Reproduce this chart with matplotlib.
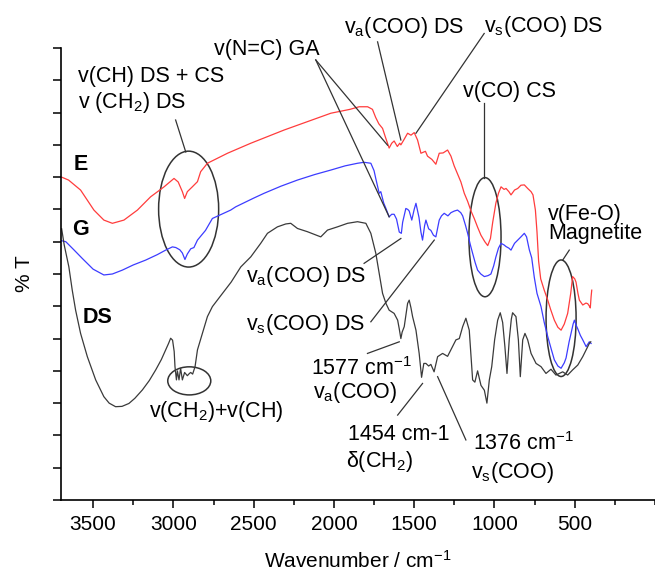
import matplotlib
matplotlib.use("Agg")
import matplotlib.pyplot as plt
from matplotlib.patches import Ellipse
from matplotlib.ticker import MultipleLocator, NullFormatter

plt.rcParams['font.family'] = ['Liberation Sans', 'DejaVu Sans']
plt.rcParams['mathtext.fontset'] = 'custom'
plt.rcParams['mathtext.rm'] = 'Liberation Sans'
plt.rcParams['mathtext.it'] = 'Liberation Sans:italic'
plt.rcParams['mathtext.bf'] = 'Liberation Sans:bold'

# --- spectra (wavenumber in cm-1, offset %T in tick units) ---
wn_E = [3696, 3653, 3578, 3495, 3433, 3380, 3308, 3224, 3142, 3058, 2996, 2970,
        2944, 2930, 2913, 2882, 2850, 2830, 2788, 2663, 2518, 2310, 2019, 1900,
        1843, 1790, 1760, 1740, 1720, 1697, 1680, 1656, 1640, 1625, 1605, 1590,
        1583, 1565, 1541, 1520, 1500, 1479, 1458, 1430, 1417, 1390, 1365, 1344,
        1320, 1292, 1271, 1251, 1230, 1209, 1188, 1167, 1146, 1126, 1105, 1084,
        1060, 1042, 1025, 1011, 991, 975, 959, 940, 928, 910, 897, 875, 855, 835,
        814, 793, 772, 760, 745, 735, 725, 712, 690, 668, 650, 627, 605, 585, 565,
        544, 525, 513, 500, 492, 480, 471, 450, 430, 419, 408, 403, 398, 394]
T_E = [10.0, 9.91, 9.6, 8.98, 8.67, 8.57, 8.67, 8.98, 9.39, 9.7, 9.96, 9.85,
       9.55, 9.34, 9.55, 9.7, 9.86, 10.17, 10.43, 10.74, 11.05, 11.46, 11.98, 12.1,
       12.18, 12.18, 12.1, 11.85, 11.65, 11.51, 11.25, 10.9, 11.05, 11.12, 10.95, 11.05,
       11.0, 11.15, 11.36, 11.3, 11.38, 11.15, 10.74, 10.8, 10.65, 10.55, 10.4, 10.74,
       10.75, 10.84, 10.65, 10.35, 10.1, 9.85, 9.5, 9.25, 8.95, 8.72, 8.45, 8.2,
       8.0, 7.88, 8.1, 8.6, 9.2, 9.5, 9.7, 9.62, 9.65, 9.55, 9.45, 9.6, 9.65, 9.75,
       9.76, 9.65, 9.55, 9.45, 8.98, 8.3, 7.4, 6.85, 6.5, 6.19, 5.9, 5.57, 5.35, 5.26, 5.45,
       5.78, 6.4, 6.92, 6.85, 6.75, 6.4, 6.19, 6.04, 6.1, 6.08, 6.0, 5.95, 6.3, 6.5]

wn_G = [3696, 3670, 3620, 3567, 3500, 3433, 3380, 3318, 3250, 3173, 3100, 3048,
        3006, 2985, 2960, 2944, 2928, 2913, 2892, 2872, 2850, 2800, 2757, 2700,
        2643, 2612, 2500, 2435, 2330, 2227, 2120, 2019, 1930, 1853, 1812, 1770,
        1750, 1739, 1718, 1708, 1690, 1676, 1656, 1640, 1625, 1610, 1593, 1580,
        1572, 1552, 1540, 1531, 1515, 1500, 1489, 1470, 1458, 1448, 1435, 1427,
        1410, 1396, 1380, 1365, 1344, 1330, 1313, 1290, 1271, 1250, 1230, 1210,
        1198, 1180, 1167, 1150, 1136, 1120, 1105, 1085, 1063, 1040, 1022, 1005,
        991, 975, 959, 940, 928, 910, 897, 875, 855, 835, 814, 800, 783, 768, 752,
        735, 710, 690, 668, 645, 627, 605, 585, 565, 554, 535, 523, 510, 502, 490,
        481, 465, 450, 429, 409, 398]
T_G = [8.03, 8.0, 7.75, 7.48, 7.15, 6.97, 7.0, 7.12, 7.28, 7.43, 7.6, 7.74,
       7.84, 7.82, 7.75, 7.65, 7.45, 7.62, 7.78, 7.82, 8.05, 8.35, 8.72, 8.85,
       8.98, 9.08, 9.35, 9.5, 9.72, 9.91, 10.08, 10.22, 10.35, 10.43, 10.46, 10.43,
       10.2, 9.95, 9.5, 9.55, 9.2, 9.03, 8.77, 8.85, 8.85, 8.7, 8.3, 8.26,
       8.6, 9.03, 9.0, 8.95, 8.67, 9.0, 9.19, 8.75, 8.3, 8.05, 8.5, 8.67,
       8.4, 8.35, 8.2, 8.15, 8.67, 8.8, 8.88, 8.8, 8.9, 8.95, 8.98, 8.9,
       8.8, 8.5, 8.26, 7.9, 7.64, 7.35, 7.12, 7.0, 6.92, 6.95, 7.0, 7.25,
       7.53, 7.8, 7.95, 7.9, 7.85, 7.8, 7.74, 7.95, 8.05, 8.15, 8.26, 8.15, 7.75, 7.5, 6.9,
       6.4, 5.99, 5.5, 5.06, 4.65, 4.34, 4.15, 4.08, 4.25, 4.4, 4.9, 5.16, 5.45, 5.57, 5.4,
       5.3, 5.1, 4.96, 4.75, 4.9, 4.85]

wn_DS = [3696, 3680, 3661, 3651, 3630, 3609, 3578, 3536, 3484, 3433, 3400, 3360,
         3320, 3277, 3240, 3193, 3150, 3110, 3075, 3048, 3030, 3017, 3005, 2995,
         2990, 2981, 2975, 2965, 2955, 2944, 2930, 2913, 2900, 2892, 2880, 2865,
         2850, 2819, 2788, 2757, 2725, 2694, 2640, 2580, 2518, 2456, 2414, 2352,
         2300, 2269, 2227, 2165, 2082, 2040, 1978, 1915, 1853, 1801, 1770, 1739,
         1718, 1697, 1676, 1656, 1625, 1603, 1593, 1583, 1575, 1562, 1541, 1531,
         1520, 1510, 1489, 1469, 1454, 1440, 1427, 1410, 1396, 1376, 1354, 1323,
         1292, 1261, 1240, 1219, 1198, 1178, 1157, 1146, 1136, 1122, 1105, 1084,
         1063, 1047, 1032, 1017, 999, 980, 964, 949, 935, 922, 908, 895, 887, 866,
         851, 839, 824, 810, 793, 772, 741, 710, 679, 648, 617, 575, 544, 513, 481,
         450, 419, 409, 400]
T_DS = [8.4, 7.9, 7.45, 7.22, 6.5, 5.88, 5.16, 4.44, 3.72, 3.2, 3.0, 2.89,
        2.9, 2.99, 3.15, 3.41, 3.7, 4.03, 4.35, 4.65, 4.85, 5.01, 4.95, 4.6,
        4.13, 3.72, 4.0, 3.72, 4.08, 3.72, 3.95, 3.85, 3.92, 3.95, 3.9, 4.13,
        4.65, 5.16, 5.68, 5.99, 6.2, 6.4, 6.75, 7.22, 7.53, 7.95, 8.26, 8.46,
        8.55, 8.57, 8.41, 8.31, 8.15, 8.36, 8.46, 8.57, 8.62, 8.57, 8.26, 7.64,
        7.02, 6.4, 6.09, 5.88, 5.78, 5.57, 5.3, 5.0, 5.2, 5.37, 6.09, 6.19,
        5.95, 5.68, 5.26, 4.54, 3.8, 4.23, 4.23, 4.15, 4.2, 3.97, 4.44, 4.54,
        4.45, 4.75, 4.96, 5.0, 5.37, 5.63, 5.26, 4.44, 3.72, 3.65, 4.0, 3.55,
        3.4, 3.0, 3.72, 4.13, 4.96, 5.57, 5.8, 5.5, 4.75, 3.92, 4.96, 5.6, 5.8, 5.68,
        4.96, 3.82, 4.96, 5.16, 4.96, 4.54, 4.23, 4.13, 3.92, 4.05, 3.87, 3.97, 3.87, 4.03, 4.18,
        4.44, 4.75, 4.85, 4.9]

fig = plt.figure(figsize=(6.55, 5.76), dpi=100)
ax = fig.add_axes([61 / 655, 76 / 576, 594 / 655, 452 / 576])

ax.plot(wn_E, T_E, color='#ff3c3c', lw=0.9)
ax.plot(wn_G, T_G, color='#3c3cff', lw=0.9)
ax.plot(wn_DS, T_DS, color='#3a3a3a', lw=0.9)

ax.set_xlim(3700, 0)
ax.set_ylim(0, 14)
for s in ['top', 'right']:
    ax.spines[s].set_visible(False)
for s in ['left', 'bottom']:
    ax.spines[s].set_linewidth(1.2)
ax.xaxis.set_major_locator(MultipleLocator(500))
ax.xaxis.set_minor_locator(MultipleLocator(250))
ax.yaxis.set_major_locator(MultipleLocator(1))
ax.yaxis.set_major_formatter(NullFormatter())
ax.tick_params(axis='x', which='major', length=6, width=1.1, labelsize=15, pad=5)
ax.tick_params(axis='x', which='minor', length=3.5, width=1.1)
ax.tick_params(axis='y', which='major', length=6, width=1.1)
ax.set_xticks([3500, 3000, 2500, 2000, 1500, 1000, 500])
ax.set_xlabel('Wavenumber / cm$^{-1}$', fontsize=15, labelpad=11)
ax.set_ylabel('% T', fontsize=15, labelpad=10)

ink = '#333333'
fs = 15.5

def label(x, y, s, **kw):
    ax.text(x, y, s, fontsize=fs, va='baseline', ha='left', clip_on=False, **kw)

def leader(x0, y0, x1, y1):
    ax.plot([x0, x1], [y0, y1], color=ink, lw=0.9, clip_on=False)

def ring(x, y, w, h):
    ax.add_patch(Ellipse((x, y), w, h, fill=False, ec=ink, lw=1.1, clip_on=False))

# sample labels
label(3622, 10.22, 'E', fontweight='bold')
label(3628, 8.21, 'G', fontweight='bold')
label(3565, 5.47, 'DS', fontweight='bold')

# CH stretch region
label(3597, 12.95, 'v(CH) DS + CS')
label(3597, 12.13, r'v (CH$_2$) DS')
leader(2986, 11.77, 2923, 10.78)
ring(2905, 9.01, 374, 3.59)

label(3154, 2.58, r'v(CH$_2$)+v(CH)')
ring(2901, 3.69, 268, 0.87)

# imine
label(2749, 13.78, 'v(N=C) GA')
leader(2113, 13.63, 1666, 10.99)
leader(2113, 13.63, 1656, 8.77)

# carboxylate on top traces
label(1938, 14.45, r'v$_\mathregular{a}$(COO) DS')
leader(1728, 14.19, 1583, 11.15)
label(1065, 14.5, r'v$_\mathregular{s}$(COO) DS')
leader(1064, 14.45, 1489, 11.36)

label(2549, 6.76, r'v$_\mathregular{a}$(COO) DS')
leader(1812, 7.33, 1583, 8.1)
label(2549, 5.26, r'v$_\mathregular{s}$(COO) DS')
leader(1770, 5.52, 1375, 8.05)

# CO stretch
label(1197, 12.49, 'v(CO) CS')
leader(1064, 12.29, 1064, 9.97)
ring(1059, 8.14, 200, 3.69)

# Fe-O
label(667, 8.67, 'v(Fe-O)')
label(667, 8.07, 'Magnetite')
leader(534, 7.74, 575, 7.43)
ring(585, 5.63, 187, 3.61)

# DS band assignments
label(2144, 3.87, r'1577 cm$^{-1}$')
label(2132, 3.15, r'v$_\mathregular{a}$(COO)')
leader(1791, 4.54, 1593, 4.9)
label(1913, 1.86, '1454 cm-1')
label(1926, 1.03, 'δ(CH$_2$)')
leader(1603, 2.63, 1448, 3.61)
label(1134, 1.55, r'1376 cm$^{-1}$')
label(1147, 0.67, r'v$_\mathregular{s}$(COO)')
leader(1178, 1.86, 1354, 3.82)

fig.savefig('out.png', dpi=100)
